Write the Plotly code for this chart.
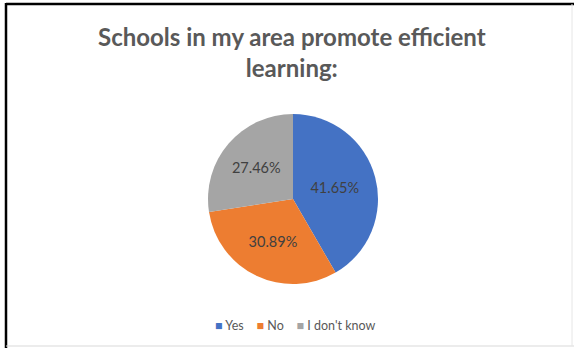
import plotly.graph_objects as go

# Survey responses
labels = ["Yes", "No", "I don't know"]
shares = [41.65, 30.89, 27.46]
colors = ["#4472C4", "#ED7D31", "#A5A5A5"]

W, H = 574, 348

fig = go.Figure()
fig.add_trace(go.Pie(
    labels=labels,
    values=shares,
    sort=False,
    direction="clockwise",
    rotation=0,
    marker=dict(colors=colors, line=dict(width=0)),
    texttemplate="%{value:.2f}%",
    textposition="inside",
    insidetextorientation="horizontal",
    textfont=dict(family="Lato", size=14.5, color="#404040"),
    domain=dict(x=[208 / W, 378 / W], y=[1 - 284 / H, 1 - 114 / H]),
    hoverinfo="label+value",
    showlegend=False,
))

# Compact legend row built from the series names and colours
gap = "&nbsp;" * 4
legend_text = gap.join(
    f"<span style='color:{c}'>■</span>&nbsp;{name}" for name, c in zip(labels, colors)
)

fig.update_layout(
    width=W,
    height=H,
    margin=dict(l=0, r=0, t=0, b=0),
    paper_bgcolor="white",
    plot_bgcolor="white",
    annotations=[
        dict(
            text="<b>Schools in my area promote efficient<br>learning:</b>",
            xref="paper", yref="paper",
            x=292 / W, y=1 - 52 / H,
            xanchor="center", yanchor="middle",
            showarrow=False,
            font=dict(family="Lato", size=24, color="#595959"),
        ),
        dict(
            text=legend_text,
            xref="paper", yref="paper",
            x=295 / W, y=1 - 325 / H,
            xanchor="center", yanchor="middle",
            showarrow=False,
            font=dict(family="Lato", size=12.5, color="#595959"),
        ),
    ],
    shapes=[
        # frame: dark top and left edges, light bottom and right edges
        dict(type="line", xref="paper", yref="paper",
             x0=6 / W, x1=1, y0=1 - 4 / H, y1=1 - 4 / H,
             line=dict(color="black", width=2.5)),
        dict(type="line", xref="paper", yref="paper",
             x0=6 / W, x1=6 / W, y0=0, y1=1 - 3 / H,
             line=dict(color="black", width=2.5)),
        dict(type="line", xref="paper", yref="paper",
             x0=6 / W, x1=1, y0=2 / H, y1=2 / H,
             line=dict(color="#d9d9d9", width=1)),
        dict(type="line", xref="paper", yref="paper",
             x0=572 / W, x1=572 / W, y0=2 / H, y1=1 - 4 / H,
             line=dict(color="#e6e6e6", width=1)),
    ],
)

fig.write_html("out.html")
